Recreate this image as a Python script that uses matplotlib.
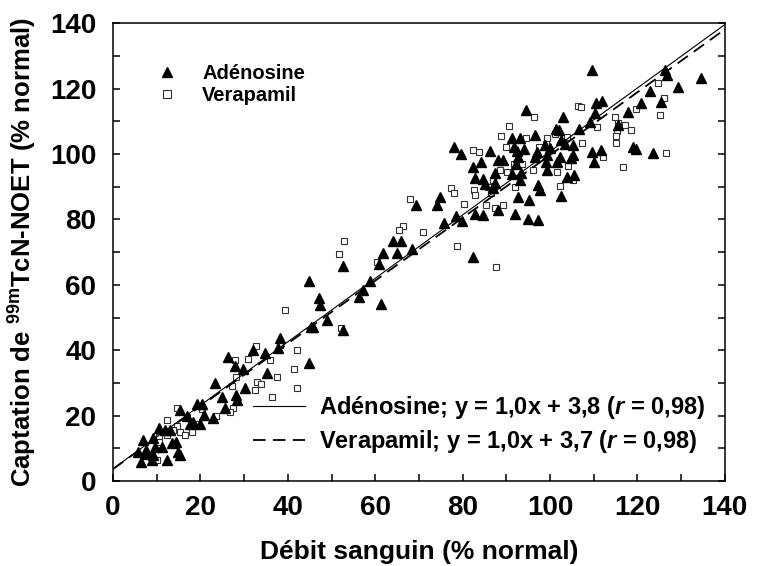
import numpy as np
import matplotlib.pyplot as plt
from matplotlib.lines import Line2D
from matplotlib.ticker import MultipleLocator

plt.rcParams['font.family'] = ['Liberation Sans', 'DejaVu Sans']
plt.rcParams['font.weight'] = 'bold'
plt.rcParams['axes.labelweight'] = 'bold'
plt.rcParams['mathtext.fontset'] = 'custom'
plt.rcParams['mathtext.rm'] = 'Liberation Sans:bold'
plt.rcParams['mathtext.bf'] = 'Liberation Sans:bold'
plt.rcParams['mathtext.it'] = 'Liberation Sans:italic:bold'

# (débit sanguin, captation) en % du normal
adenosine = [
    (47.4, 53.8), (48.9, 49.2), (45.2, 47.2), (45.8, 47.2), (52.7, 46.2), (38.2, 43.6),
    (37.8, 40.6), (32.1, 40.0), (34.8, 39.3), (26.4, 38.0), (27.9, 35.3), (29.7, 34.2),
    (35.3, 32.9), (44.9, 36.0), (23.3, 29.9), (30.2, 28.6), (24.9, 25.8), (28.1, 26.3),
    (28.3, 24.8), (25.6, 22.2), (22.8, 19.2), (19.1, 23.5), (20.3, 23.7), (15.3, 21.7),
    (17.0, 19.9), (18.4, 18.1), (19.9, 17.6), (20.8, 20.2), (17.6, 17.4), (10.4, 16.1),
    (11.9, 15.6), (13.0, 15.6), (6.9, 12.5), (9.2, 13.1), (11.1, 10.5), (13.4, 11.5),
    (14.4, 12.0), (9.6, 10.5), (5.8, 9.0), (7.5, 9.5), (7.3, 8.3), (14.9, 9.0),
    (15.3, 8.0), (8.8, 6.6), (6.3, 5.9), (12.3, 6.4), (9.2, 8.0),
    (69.3, 84.4), (64.0, 73.5), (66.0, 73.5), (61.7, 69.6), (64.9, 69.6), (68.3, 70.9),
    (60.9, 66.3), (52.7, 65.8), (44.9, 61.1), (58.8, 61.2), (57.1, 58.4), (47.1, 56.0),
    (56.3, 56.4), (61.2, 54.3),
    (109.7, 125.6), (126.3, 125.6), (126.7, 124.1), (134.5, 123.1), (129.3, 120.5),
    (122.9, 119.3), (125.5, 116.0), (120.9, 115.5), (117.9, 112.9), (110.4, 115.7),
    (112.0, 116.3), (110.3, 112.4), (109.1, 109.8), (94.5, 113.4), (102.9, 111.2),
    (115.6, 108.8), (106.7, 107.8), (101.3, 107.8), (102.1, 107.3), (96.5, 105.8),
    (91.4, 104.8), (93.1, 104.8), (102.6, 104.4), (103.4, 103.2), (105.3, 102.7),
    (98.8, 102.7), (100.0, 101.7), (91.7, 102.0), (94.0, 101.4), (92.4, 101.0),
    (96.9, 100.7), (78.0, 102.2), (79.6, 100.0), (86.3, 101.0), (109.7, 100.7),
    (111.6, 101.2), (119.0, 102.0), (119.6, 101.5), (123.6, 100.2), (105.2, 99.7),
    (99.2, 99.7), (99.1, 97.6), (96.5, 99.2), (102.3, 99.2), (101.5, 97.6),
    (104.9, 98.7), (92.7, 99.2), (88.2, 98.1), (89.3, 98.1), (84.3, 97.6),
    (110.1, 97.6), (82.3, 95.9), (92.2, 96.9), (99.2, 95.1), (87.4, 94.1),
    (91.4, 93.9), (93.3, 94.3), (82.8, 92.8), (84.7, 92.3), (93.1, 92.2),
    (103.8, 93.0), (105.5, 93.5), (85.1, 90.8), (87.4, 91.2), (87.0, 89.5),
    (97.3, 90.5), (97.7, 89.0), (102.6, 87.1), (74.7, 86.9), (74.2, 84.4),
    (92.6, 86.9), (95.2, 85.9), (88.0, 82.8), (82.8, 81.6), (84.7, 81.3),
    (92.0, 81.6), (95.0, 80.2), (97.3, 79.8), (78.5, 81.0), (79.8, 79.6),
    (75.8, 78.8), (82.4, 68.6),
]

verapamil = [
    (39.4, 52.3), (32.6, 41.3), (42.0, 40.0), (27.9, 36.9), (30.8, 37.2), (35.9, 36.9),
    (41.5, 34.4), (28.1, 31.9), (37.4, 31.7), (32.9, 30.4), (33.9, 29.6), (32.5, 28.0),
    (42.0, 28.4), (27.2, 29.0), (36.3, 25.7), (14.6, 22.4), (20.3, 21.9), (23.6, 19.8),
    (27.5, 22.5), (26.8, 21.0), (12.3, 18.6), (14.7, 16.8), (13.7, 15.6), (15.2, 15.0),
    (16.5, 14.1), (18.1, 15.0), (12.3, 14.1), (10.6, 13.5), (10.4, 12.0), (10.0, 6.6),
    (17.0, 19.7), (19.3, 17.6),
    (67.9, 86.2), (66.4, 78.1), (65.5, 76.7), (71.0, 76.2), (52.9, 73.5), (51.6, 69.4),
    (60.3, 67.0), (52.2, 46.8), (38.2, 41.6),
    (124.8, 121.8), (126.1, 117.0), (125.1, 111.9), (119.6, 113.9), (106.5, 114.6),
    (107.0, 114.4), (114.8, 111.4), (115.6, 109.5), (117.1, 108.8), (118.6, 107.3),
    (115.4, 107.1), (115.2, 105.5), (115.2, 103.4), (110.7, 108.3), (96.4, 111.2),
    (90.7, 108.5), (88.7, 105.5), (94.5, 104.8), (99.2, 104.8), (101.1, 106.1),
    (103.8, 105.3), (107.4, 103.4), (89.9, 102.2), (97.5, 102.2), (82.3, 101.2),
    (83.8, 100.7), (99.0, 103.0), (112.2, 99.0), (126.5, 100.2), (91.7, 97.1),
    (93.5, 97.1), (88.5, 95.1), (90.1, 94.6), (96.0, 95.1), (101.5, 94.6),
    (104.2, 96.3), (116.6, 95.9), (86.9, 92.0), (85.9, 90.0), (92.0, 90.0),
    (105.2, 92.2), (77.3, 89.5), (78.1, 88.0), (82.7, 89.0), (82.8, 87.4),
    (86.4, 88.0), (102.3, 90.2), (80.4, 84.7), (85.3, 84.5), (89.3, 84.5),
    (87.4, 83.4), (78.8, 71.9), (87.6, 65.5),
]

# droites de régression (pente, ordonnée à l'origine)
fit_adenosine = (0.97, 3.8)
fit_verapamil = (0.96, 3.7)

ad_x, ad_y = np.array(adenosine).T
ve_x, ve_y = np.array(verapamil).T

fig = plt.figure(figsize=(7.59, 5.66), dpi=100)
ax = fig.add_axes([0.149, 0.150, 0.806, 0.809])

xx = np.array([0, 140])
ax.plot(xx, fit_adenosine[0] * xx + fit_adenosine[1], color='black', lw=0.8, zorder=3)
ax.plot(xx, fit_verapamil[0] * xx + fit_verapamil[1], color='black', lw=1.3,
        dashes=(7, 4), zorder=3)

ax.plot(ve_x, ve_y, ls='none', marker='s', ms=5, mfc='white', mec='#333333', mew=0.8, zorder=2)
ax.plot(ad_x, ad_y, ls='none', marker='^', ms=7.5, color='black', zorder=2)

ax.set_xlim(0, 140)
ax.set_ylim(0, 140)
ax.xaxis.set_major_locator(MultipleLocator(20))
ax.xaxis.set_minor_locator(MultipleLocator(10))
ax.yaxis.set_major_locator(MultipleLocator(20))
ax.yaxis.set_minor_locator(MultipleLocator(10))
ax.tick_params(which='both', direction='in', length=5, width=1.1, top=False, right=True,
               labelsize=20)
ax.tick_params(axis='x', pad=10)
ax.tick_params(axis='y', pad=12)
for s in ax.spines.values():
    s.set_linewidth(1.1)

ax.set_xlabel('Débit sanguin (% normal)', fontsize=19, labelpad=14)
ax.set_ylabel(r'Captation de $^{\mathbf{99m}}$TcN-NOET (% normal)', fontsize=18.5, labelpad=8)

h_markers = [
    Line2D([], [], ls='none', marker='^', ms=7, color='black'),
    Line2D([], [], ls='none', marker='s', ms=6, mfc='white', mec='#333333', mew=0.8),
]
leg1 = ax.legend(h_markers, ['Adénosine', 'Verapamil'], loc='upper left',
                 bbox_to_anchor=(0.055, 0.91), frameon=False, fontsize=14.5,
                 borderpad=0, borderaxespad=0, handlelength=2.0, handletextpad=0.75,
                 labelspacing=0.15)
ax.add_artist(leg1)

h_lines = [
    Line2D([], [], color='black', lw=0.8),
    Line2D([], [], color='black', lw=1.3, dashes=(7, 4)),
]
labels = [r'Adénosine; y = 1,0x + 3,8 ($\mathit{r}$ = 0,98)',
          r'Verapamil; y = 1,0x + 3,7 ($\mathit{r}$ = 0,98)']
ax.legend(h_lines, labels, loc='upper left', bbox_to_anchor=(0.229, 0.19),
          frameon=False, fontsize=17, borderpad=0, borderaxespad=0,
          handlelength=2.2, handletextpad=0.6, labelspacing=0.3)

fig.savefig('out.png', dpi=100)
